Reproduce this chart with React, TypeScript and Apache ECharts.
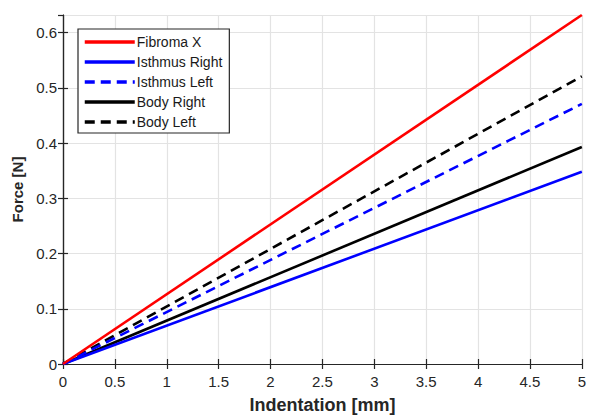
import React, { useEffect, useRef } from "react";
import * as echarts from "echarts";

const indentation = [0, 5];
const seriesNames = ["Fibroma X", "Isthmus Right", "Isthmus Left", "Body Right", "Body Left"];
const fibromaX = [0, 0.632];
const isthmusRight = [0, 0.348];
const isthmusLeft = [0, 0.471];
const bodyRight = [0, 0.393];
const bodyLeft = [0, 0.521];
const xTicks = [0, 0.5, 1, 1.5, 2, 2.5, 3, 3.5, 4, 4.5, 5];
const yTicks = [0, 0.1, 0.2, 0.3, 0.4, 0.5, 0.6];

const FONT = "Liberation Sans, Arial, sans-serif";

export default function App() {
  const ref = useRef<HTMLDivElement>(null);
  useEffect(() => {
    if (!ref.current) return;
    const chart = echarts.init(ref.current, undefined, { renderer: "svg" });
    const pts = (vals: number[]) => indentation.map((x, i) => [x, vals[i]]);
    const styles = [
      { color: "#ff0000", type: "solid" },
      { color: "#0000ff", type: "solid" },
      { color: "#0000ff", type: [10, 6] },
      { color: "#000000", type: "solid" },
      { color: "#000000", type: [10, 6] },
    ];
    const values = [fibromaX, isthmusRight, isthmusLeft, bodyRight, bodyLeft];
    const axisCommon = {
      axisLine: { show: true, lineStyle: { color: "#262626", width: 1.2 } },
      axisTick: { show: true, inside: true, length: 5, lineStyle: { color: "#262626", width: 1.2 } },
    };
    chart.setOption({
      animation: false,
      backgroundColor: "#ffffff",
      grid: { left: 63, right: 4, top: 15, bottom: 52, containLabel: false },
      legend: {
        orient: "vertical",
        left: 78,
        top: 29,
        data: seriesNames,
        itemWidth: 50,
        itemHeight: 14,
        itemGap: 6,
        padding: [6, 7, 4, 5],
        borderColor: "#262626",
        borderWidth: 1.2,
        backgroundColor: "#ffffff",
        itemStyle: { opacity: 0 },
        lineStyle: { width: 3.5 },
        textStyle: { fontFamily: FONT, fontSize: 14, color: "#1a1a1a", padding: [0, 0, 0, -3] },
      },
      xAxis: [
        {
          type: "value",
          min: 0,
          max: 5,
          interval: 0.5,
          name: "Indentation [mm]",
          nameLocation: "middle",
          nameGap: 32,
          nameTextStyle: { fontFamily: FONT, fontSize: 18, fontWeight: "bold", color: "#262626" },
          ...axisCommon,
          axisLabel: {
            fontFamily: FONT,
            fontSize: 15,
            color: "#262626",
            margin: 10,
            formatter: (v: number) => (xTicks.includes(v) ? String(v) : ""),
          },
          splitLine: { show: true, lineStyle: { color: "#e3e3e3", width: 1.2 } },
        },
        {
          type: "value",
          position: "top",
          min: 0,
          max: 5,
          interval: 0.5,
          ...axisCommon,
          axisLabel: { show: false },
          splitLine: { show: false },
        },
      ],
      yAxis: [
        {
          type: "value",
          min: 0,
          max: 0.632,
          interval: 0.1,
          name: "Force [N]",
          nameLocation: "middle",
          nameGap: 36,
          nameTextStyle: { fontFamily: FONT, fontSize: 15, fontWeight: "bold", color: "#262626" },
          ...axisCommon,
          axisLabel: {
            fontFamily: FONT,
            fontSize: 15,
            color: "#262626",
            margin: 6,
            showMaxLabel: false,
            formatter: (v: number) => {
              const r = Math.round(v * 10) / 10;
              return yTicks.includes(r) && Math.abs(v - r) < 1e-6 ? String(r) : "";
            },
          },
          splitLine: { show: true, lineStyle: { color: "#e3e3e3", width: 1.2 } },
        },
        {
          type: "value",
          position: "right",
          min: 0,
          max: 0.632,
          interval: 0.1,
          ...axisCommon,
          axisLabel: { show: false },
          splitLine: { show: false },
        },
      ],
      series: seriesNames.map((name, i) => ({
        name,
        type: "line",
        xAxisIndex: 0,
        yAxisIndex: 0,
        data: pts(values[i]),
        symbol: "none",
        color: styles[i].color,
        lineStyle: { color: styles[i].color, width: 2.6, type: styles[i].type },
        z: 5 - i,
      })),
    });
    return () => chart.dispose();
  }, []);
  return <div ref={ref} style={{ width: 589, height: 419, position: "absolute", left: 0, top: 0 }} />;
}
